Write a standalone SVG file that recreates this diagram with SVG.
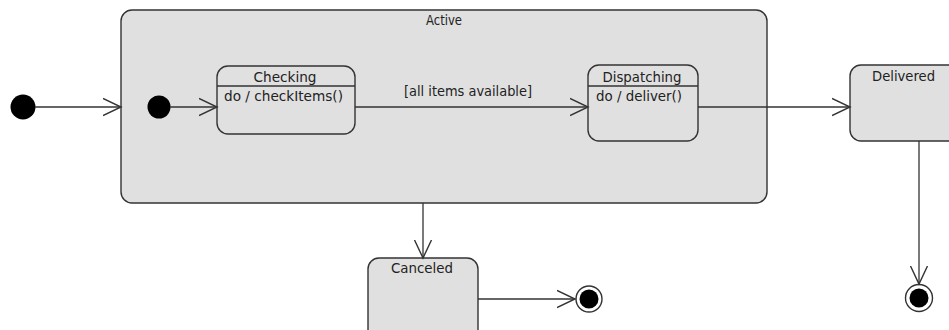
<svg xmlns="http://www.w3.org/2000/svg" width="949" height="330" viewBox="0 0 949 330">
<defs>
<marker id="open" viewBox="0 0 20 20" refX="18" refY="10" markerWidth="20" markerHeight="20" markerUnits="userSpaceOnUse" orient="auto">
<path d="M0,1.5 L18,10 L0,18.5" fill="none" stroke="#333" stroke-width="1.4"/>
</marker>
</defs>
<style>
.st{fill:#e0e0e0;stroke:#333;stroke-width:1.4}
.ln{fill:none;stroke:#333;stroke-width:1.3}
.c{stroke:#333;stroke-width:1.3;fill:none;marker-end:url(#open)}
text{font-family:"DejaVu Sans","Liberation Sans",sans-serif;font-size:13.5px;fill:#222}
.m{text-anchor:middle}
</style>
<rect width="949" height="330" fill="#fff"/>
<g id="active">
<rect class="st" x="121" y="10" width="646" height="193" rx="11"/>
<text class="m" x="444" y="25" textLength="36" lengthAdjust="spacingAndGlyphs">Active</text>
</g>
<g id="initial">
<circle cx="23" cy="107" r="12.5" fill="#000"/>
</g>
<g id="inner-initial">
<circle cx="159" cy="107" r="11.5" fill="#000"/>
</g>
<g id="checking">
<rect class="st" x="217" y="66" width="138" height="68" rx="11"/>
<line class="ln" x1="217" y1="86" x2="355" y2="86"/>
<text class="m" x="285" y="82" textLength="63" lengthAdjust="spacingAndGlyphs">Checking</text>
<text x="224" y="100.5" textLength="119" lengthAdjust="spacingAndGlyphs">do / checkItems()</text>
</g>
<g id="dispatching">
<rect class="st" x="588" y="65" width="110" height="76" rx="11"/>
<line class="ln" x1="588" y1="86" x2="698" y2="86"/>
<text class="m" x="642" y="82" textLength="79" lengthAdjust="spacingAndGlyphs">Dispatching</text>
<text x="596" y="101" textLength="86" lengthAdjust="spacingAndGlyphs">do / deliver()</text>
</g>
<g id="delivered">
<rect class="st" x="850" y="65" width="115" height="76" rx="11"/>
<text class="m" x="903.5" y="81" textLength="63" lengthAdjust="spacingAndGlyphs">Delivered</text>
</g>
<g id="canceled">
<rect class="st" x="368" y="258" width="110" height="85" rx="11"/>
<text class="m" x="422" y="273" textLength="62" lengthAdjust="spacingAndGlyphs">Canceled</text>
</g>
<g id="final1">
<circle cx="589" cy="299" r="13" fill="#fff" stroke="#333" stroke-width="1.4"/>
<circle cx="589" cy="299" r="9.5" fill="#000"/>
</g>
<g id="final2">
<circle cx="919" cy="298" r="13.5" fill="#fff" stroke="#333" stroke-width="1.4"/>
<circle cx="919" cy="298" r="9.5" fill="#000"/>
</g>
<g id="connectors">
<line class="c" x1="35" y1="107" x2="121" y2="107"/>
<line class="c" x1="170" y1="107" x2="217" y2="107"/>
<line class="c" x1="355" y1="107" x2="588" y2="107"/>
<text class="m" x="468" y="95.5" textLength="128" lengthAdjust="spacingAndGlyphs">[all items available]</text>
<line class="c" x1="698" y1="107" x2="850" y2="107"/>
<line class="c" x1="423" y1="203" x2="423" y2="258"/>
<line class="c" x1="478" y1="299" x2="575" y2="299"/>
<line class="c" x1="919" y1="141" x2="919" y2="284"/>
</g>
</svg>
